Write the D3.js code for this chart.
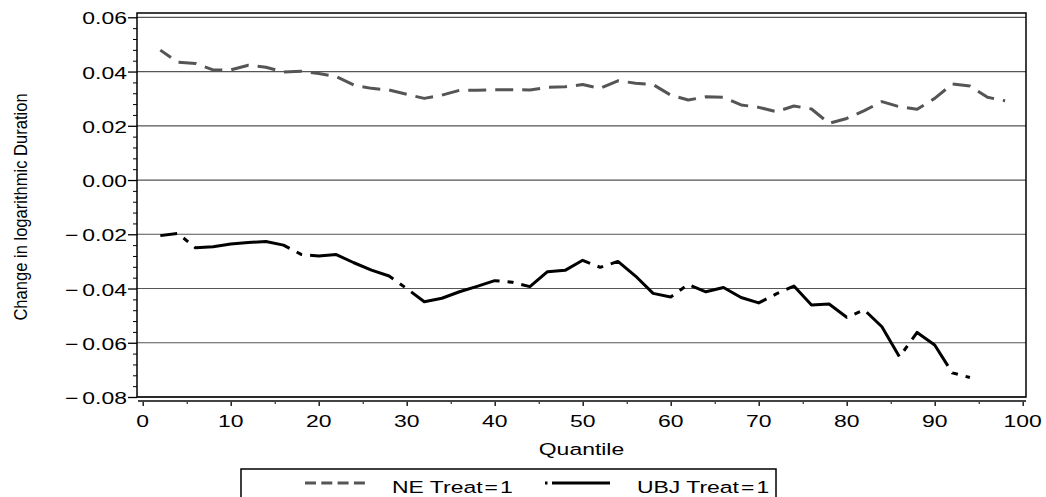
<!DOCTYPE html>
<html>
<head>
<meta charset="utf-8">
<script src="https://cdn.jsdelivr.net/npm/d3@7"></script>
<style>
  html, body { margin: 0; padding: 0; background: #fff; }
  svg { display: block; }
  text { font-family: "Liberation Sans", Arial, Helvetica, sans-serif; fill: #000; }
</style>
</head>
<body>
<svg id="chart" width="1046" height="497"></svg>
<script>
// ---- data ----
const quantilesNE = [2,4,6,8,10,12,14,16,18,20,22,24,26,28,30,32,34,36,38,40,42,44,46,48,50,
                     52,54,56,58,60,62,64,66,68,70,72,74,76,78,80,82,84,86,88,90,92,94,96,98];
const valuesNE = [0.0479,0.0434,0.0430,0.0406,0.0406,0.0423,0.0416,0.0398,0.0401,0.0393,
                  0.0381,0.0350,0.0338,0.0332,0.0316,0.0301,0.0313,0.0331,0.0331,0.0333,
                  0.0333,0.0332,0.0342,0.0344,0.0352,0.0338,0.0366,0.0357,0.0352,0.0313,
                  0.0295,0.0307,0.0305,0.0277,0.0268,0.0252,0.0273,0.0262,0.0209,0.0227,
                  0.0256,0.0289,0.0270,0.0261,0.0301,0.0354,0.0347,0.0305,0.0292];
const quantilesUBJ = [2,4,6,8,10,12,14,16,18,20,22,24,26,28,30,32,34,36,38,40,42,44,46,48,50,
                      52,54,56,58,60,62,64,66,68,70,72,74,76,78,80,82,84,86,88,90,92,94];
const valuesUBJ = [-0.0205,-0.0197,-0.0250,-0.0246,-0.0236,-0.0230,-0.0227,-0.0240,-0.0274,-0.0280,
                   -0.0275,-0.0305,-0.0332,-0.0354,-0.0400,-0.0449,-0.0436,-0.0412,-0.0392,-0.0371,
                   -0.0377,-0.0393,-0.0338,-0.0333,-0.0296,-0.0322,-0.0300,-0.0354,-0.0418,-0.0431,
                   -0.0385,-0.0412,-0.0396,-0.0433,-0.0453,-0.0420,-0.0391,-0.0461,-0.0457,-0.0506,
                   -0.0479,-0.0541,-0.0652,-0.0562,-0.0608,-0.0711,-0.0728];
const yTicks = [0.06, 0.04, 0.02, 0.00, -0.02, -0.04, -0.06, -0.08];
const yTickLabels = ["0.06", "0.04", "0.02", "0.00", "−0.02", "−0.04", "−0.06", "−0.08"];
const xTicks = [0, 10, 20, 30, 40, 50, 60, 70, 80, 90, 100];
const xTickLabels = ["0", "10", "20", "30", "40", "50", "60", "70", "80", "90", "100"];
const seriesNames = ["NE", "UBJ"];
const xTitle = "Quantile";
const yTitle = "Change in logarithmic Duration";

// ---- style: where the dash-dot breaks of the UBJ line sit (in quantile units) ----
const ubjBreaks = [4.9, 17.8, 29.5, 41.8, 52.0, 61.3, 72.0, 81.2, 86.7, 92.3];

// ---- layout ----
const frame = { left: 137, right: 1026, top: 13, bottom: 397 };
const SX = 1.35;        // horizontal stretch of the original font
const FS = 17;

const svg = d3.select("#chart");
const x = d3.scaleLinear().domain([0, 100]).range([142.7, 1022.7]);
const y = d3.scaleLinear().domain([-0.08, 0.06]).range([397, 17.3]);

// gridlines
svg.append("g").selectAll("line").data(yTicks).join("line")
  .attr("x1", frame.left).attr("x2", frame.right)
  .attr("y1", d => y(d)).attr("y2", d => y(d))
  .attr("stroke", "#555").attr("stroke-width", 1.2);

// frame
svg.append("rect")
  .attr("x", frame.left).attr("y", frame.top)
  .attr("width", frame.right - frame.left).attr("height", frame.bottom - frame.top)
  .attr("fill", "none").attr("stroke", "#000").attr("stroke-width", 1.5);

// y axis ticks (major + minor)
const yAxis = d3.axisLeft(y).tickValues(yTicks).tickSize(9).tickFormat("");
const gy = svg.append("g").attr("transform", `translate(${frame.left},0)`).call(yAxis);
gy.select(".domain").remove();
gy.selectAll(".tick line").attr("stroke", "#000").attr("stroke-width", 1.3);
const yMinor = d3.range(-80, 61, 4).map(v => v / 1000).filter(v => !yTicks.some(t => Math.abs(t - v) < 1e-9));
const yAxisMinor = d3.axisLeft(y).tickValues(yMinor).tickSize(4).tickFormat("");
const gym = svg.append("g").attr("transform", `translate(${frame.left},0)`).call(yAxisMinor);
gym.select(".domain").remove();
gym.selectAll(".tick line").attr("stroke", "#000").attr("stroke-width", 1);

// y tick labels (stretched)
yTicks.forEach((t, i) => {
  const lab = yTickLabels[i];
  const g = svg.append("text")
    .attr("transform", `translate(127,${y(t) + 7}) scale(${SX},1)`)
    .attr("text-anchor", "end").attr("font-size", FS);
  if (lab.startsWith("−")) {
    g.append("tspan").text("−");
    g.append("tspan").attr("dx", 3).text(lab.slice(1));
  } else {
    g.text(lab);
  }
});

// x axis (separate line below the frame)
const xAxisY = 401;
const xAxis = d3.axisBottom(x).tickValues(xTicks).tickSize(5).tickFormat("");
const gx = svg.append("g").attr("transform", `translate(0,${xAxisY})`).call(xAxis);
gx.select(".domain").remove();
gx.selectAll(".tick line").attr("stroke", "#000").attr("stroke-width", 1.3);
const xMinor = [5,15,25,35,45,55,65,75,85,95];
const gxm = svg.append("g").attr("transform", `translate(0,${xAxisY})`)
  .call(d3.axisBottom(x).tickValues(xMinor).tickSize(3).tickFormat(""));
gxm.select(".domain").remove();
gxm.selectAll(".tick line").attr("stroke", "#000").attr("stroke-width", 1);
svg.append("line")
  .attr("x1", frame.left + 1).attr("x2", frame.right)
  .attr("y1", xAxisY).attr("y2", xAxisY)
  .attr("stroke", "#444").attr("stroke-width", 1.8);

xTicks.forEach((t, i) => {
  svg.append("text")
    .attr("transform", `translate(${x(t)},427) scale(${SX},1)`)
    .attr("text-anchor", "middle").attr("font-size", FS)
    .text(xTickLabels[i]);
});

// axis titles
svg.append("text")
  .attr("transform", `translate(${(frame.left + frame.right) / 2},455) scale(${SX},1)`)
  .attr("text-anchor", "middle").attr("font-size", FS)
  .text(xTitle);
svg.append("text")
  .attr("transform", `translate(27,207) rotate(-90) scale(0.92,1)`)
  .attr("text-anchor", "middle").attr("font-size", 18)
  .text(yTitle);

// series
const line = d3.line().x(d => x(d[0])).y(d => y(d[1]));
const neData = quantilesNE.map((q, i) => [q, valuesNE[i]]);
const ubjData = quantilesUBJ.map((q, i) => [q, valuesUBJ[i]]);

svg.append("path").datum(neData)
  .attr("d", line).attr("fill", "none")
  .attr("stroke", "#555").attr("stroke-width", 3)
  .attr("stroke-dasharray", "18,9").attr("stroke-dashoffset", 5)
  .attr("stroke-linejoin", "round");

// dash-dot pattern for UBJ: long solid runs broken by gap / dot / gap at ubjBreaks
function lengthAt(data, q) {
  let L = 0;
  for (let i = 1; i < data.length; i++) {
    const x0 = x(data[i-1][0]), y0 = y(data[i-1][1]);
    const x1 = x(data[i][0]), y1 = y(data[i][1]);
    const seg = Math.hypot(x1 - x0, y1 - y0);
    if (q <= data[i][0]) {
      const f = (q - data[i-1][0]) / (data[i][0] - data[i-1][0]);
      return L + seg * Math.max(0, f);
    }
    L += seg;
  }
  return L;
}
const gapLen = 8, dotLen = 6, half = gapLen + dotLen / 2;
const dash = [];
let pos = 0;
ubjBreaks.forEach(b => {
  const c = lengthAt(ubjData, b);
  dash.push(Math.max(0, c - half - pos), gapLen, dotLen, gapLen);
  pos = c + half;
});
const total = lengthAt(ubjData, 1000);
dash.push(Math.max(0, total - pos) + 50, 0);

svg.append("path").datum(ubjData)
  .attr("d", line).attr("fill", "none")
  .attr("stroke", "#000").attr("stroke-width", 3)
  .attr("stroke-dasharray", dash.join(","))
  .attr("stroke-linejoin", "round");

// legend
const leg = svg.append("g");
leg.append("rect")
  .attr("x", 241).attr("y", 469).attr("width", 535).attr("height", 32)
  .attr("fill", "none").attr("stroke", "#000").attr("stroke-width", 1.5);
leg.append("line")
  .attr("x1", 305).attr("x2", 365).attr("y1", 483).attr("y2", 483)
  .attr("stroke", "#555").attr("stroke-width", 3).attr("stroke-dasharray", "11,5.3");
leg.append("line")
  .attr("x1", 545).attr("x2", 547.5).attr("y1", 483).attr("y2", 483)
  .attr("stroke", "#000").attr("stroke-width", 3);
leg.append("line")
  .attr("x1", 552).attr("x2", 610).attr("y1", 483).attr("y2", 483)
  .attr("stroke", "#000").attr("stroke-width", 3);

function legendLabel(xPos, name) {
  const t = leg.append("text")
    .attr("transform", `translate(${xPos},493) scale(${SX},1)`)
    .attr("font-size", FS);
  t.append("tspan").text(name + " Treat");
  t.append("tspan").attr("dx", 1.5).text("=");
  t.append("tspan").attr("dx", 1.5).text("1");
}
legendLabel(392, seriesNames[0]);
legendLabel(637, seriesNames[1]);
</script>
</body>
</html>
